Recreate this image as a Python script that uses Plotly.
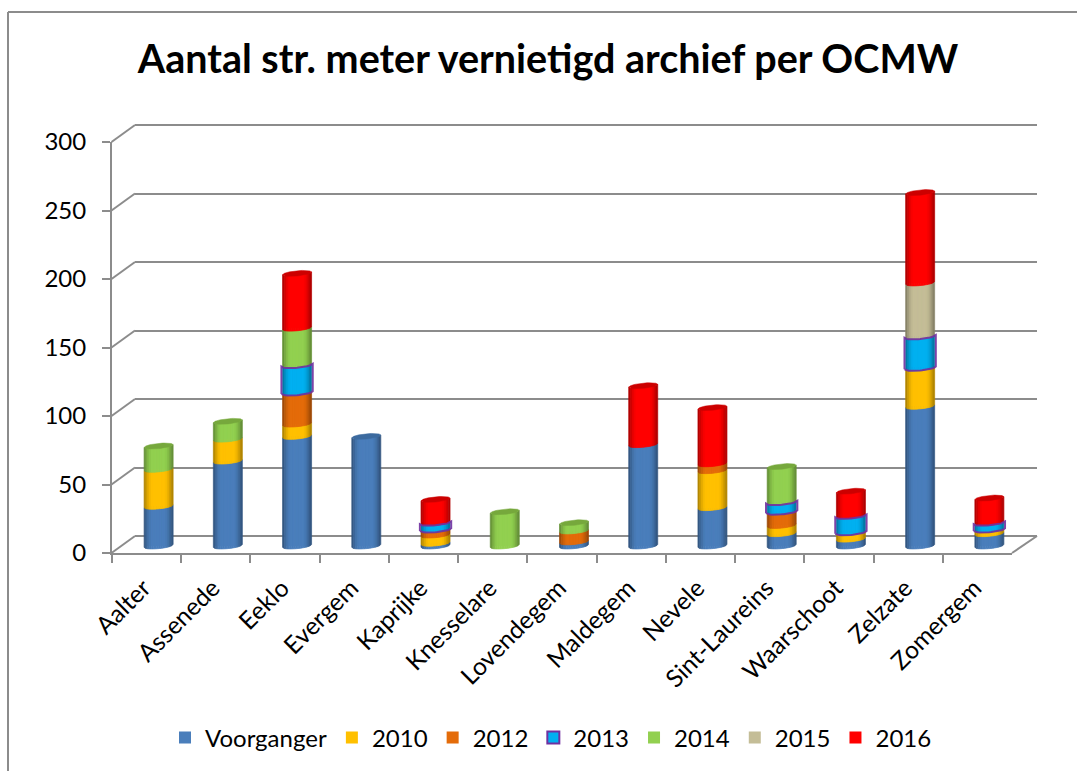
import plotly.graph_objects as go

categories = ["Aalter", "Assenede", "Eeklo", "Evergem", "Kaprijke", "Knesselare", "Lovendegem",
              "Maldegem", "Nevele", "Sint-Laureins", "Waarschoot", "Zelzate", "Zomergem"]
voorganger = [29, 62, 80, 80, 2, 0, 3, 74, 28, 9, 5, 102, 9]
y2010 = [27, 16, 9, 0, 6, 0, 0, 0, 27, 6, 5, 28, 3]
y2012 = [0, 0, 23, 0, 4, 0, 8, 0, 5, 10, 0, 0, 0]
y2013 = [0, 0, 20, 0, 5, 0, 0, 0, 0, 7, 12, 23, 5]
y2014 = [17, 13, 27, 0, 0, 25, 6, 0, 0, 26, 0, 0, 0]
y2015 = [0, 0, 0, 0, 0, 0, 0, 0, 0, 0, 0, 39, 0]
y2016 = [0, 0, 40, 0, 17, 0, 0, 43, 41, 0, 18, 66, 18]
y_ticks = [0, 50, 100, 150, 200, 250, 300]

series = [
    ("Voorganger", voorganger, "#4A7EBB", "#3C6A9F"),
    ("2010", y2010, "#FFC000", "#E0A800"),
    ("2012", y2012, "#E46C0A", "#C55C08"),
    ("2013", y2013, "#00B0F0", "#0090C8"),
    ("2014", y2014, "#92D050", "#76A83C"),
    ("2015", y2015, "#C4BD97", "#A8A27E"),
    ("2016", y2016, "#FF0000", "#CC0000"),
]

W, H = 1077, 771
FONT = "Lato"
GRID = "#8C8C8C"
PX_PER_UNIT = 1.37           # vertical pixels per value unit
CAT_PX = 900 / 13            # horizontal pixels per category
HALF = 14.5 / CAT_PX         # cylinder half width, in category units
ARC = 2.6 / PX_PER_UNIT      # ellipse half height, in value units
TILT = 1.4 / PX_PER_UNIT     # ellipse tilt (right side higher), in value units
STRIPS = 16
ARC_POINTS = 17
FRONT_ZERO = 553
BACK_ZERO = 536
BAR_ZERO = 546


def fx(p):
    return p / W


def fy(p):
    return 1 - p / H


def shade(hex_color, factor):
    r, g, b = (int(hex_color[i:i + 2], 16) for i in (1, 3, 5))
    return "#%02X%02X%02X" % (int(r * factor), int(g * factor), int(b * factor))


def front(u):
    return TILT * u - ARC * (1 - u * u) ** 0.5


def back(u):
    return TILT * u + ARC * (1 - u * u) ** 0.5


fig = go.Figure()

# Back wall axes carry the gridlines
fig.add_trace(go.Scatter(x=categories, y=[None] * 13, xaxis="x", yaxis="y", showlegend=False, hoverinfo="skip"))

# Real stacked bars, slightly narrower than the cylinder shading drawn over them
for name, vals, color, _ in series:
    line = dict(color="#7030A0", width=2) if name == "2013" else dict(width=0)
    fig.add_trace(go.Bar(
        x=categories, y=[v if v else None for v in vals], name=name, width=0.36,
        marker=dict(color=color, line=line), xaxis="x2", yaxis="y2"))

# Front axes carry ticks and labels
fig.add_trace(go.Scatter(x=categories, y=[None] * 13, xaxis="x3", yaxis="y3", showlegend=False, hoverinfo="skip"))

# Cylinder shading: vertical strips for each stacked segment, on a numeric twin of the bar axes
totals = [0] * 13
outline_x, outline_y = [], []
for name, vals, color, top_color in series:
    strip_x = [[] for _ in range(STRIPS)]
    strip_y = [[] for _ in range(STRIPS)]
    for c, v in enumerate(vals):
        if not v:
            continue
        y0, y1 = totals[c], totals[c] + v
        for k in range(STRIPS):
            u0 = -1 + 2 * k / STRIPS
            u1 = -1 + 2 * (k + 1) / STRIPS
            x0, x1 = c + u0 * HALF, c + u1 * HALF
            strip_x[k] += [x0, x1, x1, x0, x0, None]
            strip_y[k] += [y0 + front(u0), y0 + front(u1), y1 + front(u1), y1 + front(u0), y0 + front(u0), None]
    for k in range(STRIPS):
        if not strip_x[k]:
            continue
        u = abs(-1 + 2 * (k + 0.5) / STRIPS)
        factor = 1 - 0.36 * max(0, (u - 0.45) / 0.55) ** 1.6
        col = shade(color, factor)
        fig.add_trace(go.Scatter(
            x=strip_x[k], y=strip_y[k], mode="lines", fill="toself", fillcolor=col,
            line=dict(color=col, width=0.7), xaxis="x4", yaxis="y4",
            showlegend=False, hoverinfo="skip"))
    for c, v in enumerate(vals):
        totals[c] += v
    if name == "2013":
        base = [t - v for t, v in zip(totals, vals)]
        for c, v in enumerate(vals):
            if not v:
                continue
            us = [-1 + 2 * i / (ARC_POINTS - 1) for i in range(ARC_POINTS)]
            w = HALF * 1.08
            outline_x += [c + u * w for u in us] + [c + u * w for u in reversed(us)] + [c - w, None]
            outline_y += [base[c] + front(u) for u in us] + [totals[c] + front(u) for u in reversed(us)] + [base[c] + front(-1), None]

# The 2013 outline sits over the neighbouring segments
fig.add_trace(go.Scatter(
    x=outline_x, y=outline_y, mode="lines", line=dict(color="#7030A0", width=2), xaxis="x4", yaxis="y4",
    showlegend=False, hoverinfo="skip", opacity=0.9))

# Top ellipses, coloured by the uppermost segment of each stack
top_groups = {}
for c in range(13):
    for name, vals, color, top_color in series:
        if vals[c]:
            top_groups[c] = (top_color, totals[c])
for c, (top_color, total) in top_groups.items():
    us = [-1 + 2 * i / (ARC_POINTS - 1) for i in range(ARC_POINTS)]
    ex = [c + u * HALF for u in us] + [c + u * HALF for u in reversed(us)]
    ey = [total + front(u) for u in us] + [total + back(u) for u in reversed(us)]
    fig.add_trace(go.Scatter(
        x=ex, y=ey, mode="lines", fill="toself", fillcolor=top_color,
        line=dict(color=top_color, width=0.5), xaxis="x4", yaxis="y4",
        showlegend=False, hoverinfo="skip"))

shapes = [
    dict(type="line", xref="paper", yref="paper", x0=fx(8), x1=fx(8), y0=fy(12), y1=fy(771),
         line=dict(color="#8C8C8C", width=2), layer="below"),
    dict(type="line", xref="paper", yref="paper", x0=fx(8), x1=fx(1077), y0=fy(12), y1=fy(12),
         line=dict(color="#8C8C8C", width=2), layer="below"),
    dict(type="line", xref="paper", yref="paper", x0=fx(1012), x1=fx(1037), y0=fy(FRONT_ZERO), y1=fy(BACK_ZERO),
         line=dict(color=GRID, width=2), layer="below"),
]
for t in y_ticks:
    yf = FRONT_ZERO - t * PX_PER_UNIT
    yb = BACK_ZERO - t * PX_PER_UNIT
    shapes.append(dict(type="line", xref="paper", yref="paper", x0=fx(111.5), x1=fx(135), y0=fy(yf), y1=fy(yb),
                       line=dict(color=GRID, width=2), layer="below"))

bar_domain_x = [fx(124), fx(1024)]
bar_domain_y = [fy(BAR_ZERO + 8 * PX_PER_UNIT), fy(BAR_ZERO - 300 * PX_PER_UNIT)]

fig.update_layout(
    width=W, height=H, autosize=False, margin=dict(l=0, r=0, t=0, b=0, autoexpand=False),
    paper_bgcolor="white", plot_bgcolor="rgba(0,0,0,0)",
    barmode="stack", bargap=0, shapes=shapes,
    font=dict(family=FONT, color="#000000"),
    title=dict(text="<b>Aantal str. meter vernietigd archief per OCMW</b>", xref="paper", yref="paper",
               x=fx(548), y=fy(59), xanchor="center", yanchor="middle",
               font=dict(family=FONT, size=39.5, color="#000000")),
    legend=dict(orientation="h", x=fx(165), y=fy(738), xanchor="left", yanchor="middle", traceorder="normal",
                font=dict(family=FONT, size=24, color="#000000"), bgcolor="rgba(0,0,0,0)"),
    xaxis=dict(domain=[fx(135), fx(1037)], range=[-0.5, 12.5], anchor="y", type="category",
               categoryorder="array", categoryarray=categories, showticklabels=False, ticks="",
               showgrid=False, zeroline=False, showline=False),
    yaxis=dict(domain=[fy(BACK_ZERO + 10 * PX_PER_UNIT), fy(BACK_ZERO - 310 * PX_PER_UNIT)], range=[-10, 310],
               anchor="x", tickvals=y_ticks, showticklabels=False, ticks="", showgrid=True,
               gridcolor=GRID, gridwidth=2.4, zeroline=False, showline=False),
    xaxis2=dict(domain=bar_domain_x, range=[-0.5, 12.5], anchor="y2", visible=False, type="category",
                categoryorder="array", categoryarray=categories),
    yaxis2=dict(domain=bar_domain_y, range=[-8, 300], anchor="x2", visible=False),
    xaxis3=dict(domain=[fx(112), fx(1012)], range=[-0.5, 12.5], anchor="y3", type="category",
                categoryorder="array", categoryarray=categories, tickmode="array",
                tickvals=categories, ticktext=categories, tickson="boundaries",
                ticks="outside", ticklen=8, tickwidth=2, tickcolor=GRID, tickangle=-45,
                ticklabelstandoff=9, ticklabelshift=-3,
                tickfont=dict(family=FONT, size=24.5, color="#000000"),
                showgrid=False, zeroline=False, showline=True, linecolor=GRID, linewidth=2),
    yaxis3=dict(domain=[fy(FRONT_ZERO), fy(FRONT_ZERO - 300 * PX_PER_UNIT)], range=[0, 300], anchor="x3", tickvals=y_ticks,
                ticks="outside", ticklen=8, tickwidth=2, tickcolor=GRID, ticklabelstandoff=11,
                tickfont=dict(family=FONT, size=24, color="#000000"),
                showgrid=False, zeroline=False, showline=True, linecolor=GRID, linewidth=2),
    xaxis4=dict(domain=bar_domain_x, range=[-0.5, 12.5], anchor="y4", visible=False, type="linear"),
    yaxis4=dict(domain=bar_domain_y, range=[-8, 300], anchor="x4", visible=False),
)

fig.write_html("out.html", config=dict(displayModeBar=False), post_script="document.body.style.margin='0';")
